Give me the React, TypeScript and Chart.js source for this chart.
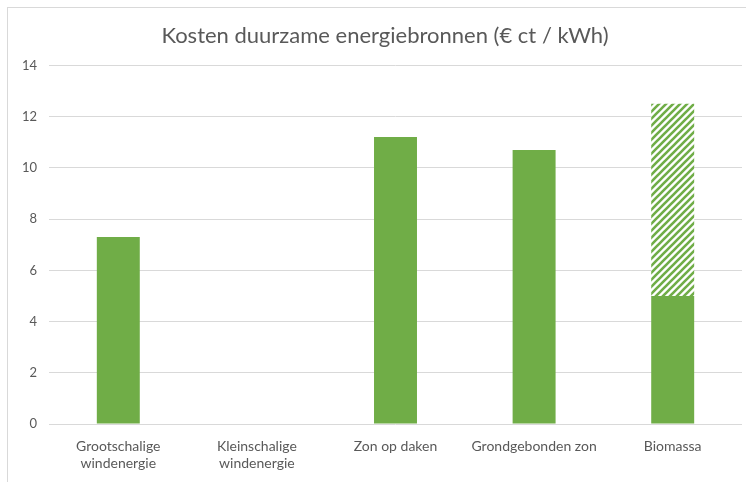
import React, { useEffect, useRef } from "react";
import { Chart, registerables } from "chart.js";

Chart.register(...registerables);

const categories: string[][] = [
  ["Grootschalige", "windenergie"],
  ["Kleinschalige", "windenergie"],
  ["Zon op daken"],
  ["Grondgebonden zon"],
  ["Biomassa"],
];
const solidValues = [7.3, 0, 11.2, 10.7, 5];
const hatchedValues = [0, 0, 0, 0, 7.5];
const yTicks = [0, 2, 4, 6, 8, 10, 12, 14];
const titleText = "Kosten duurzame energiebronnen (€ ct / kWh)";

const GREEN = "#70ad47";
const TEXT = "#595959";
const GRID = "#d9d9d9";
const FONT = "Lato, 'Open Sans', sans-serif";

function makeHatch(): CanvasPattern | string {
  const size = 7;
  const c = document.createElement("canvas");
  c.width = size;
  c.height = size;
  const ctx = c.getContext("2d");
  if (!ctx) return GREEN;
  ctx.fillStyle = "#ffffff";
  ctx.fillRect(0, 0, size, size);
  ctx.strokeStyle = GREEN;
  ctx.lineWidth = 2.6;
  ctx.beginPath();
  ctx.moveTo(-1, size + 1);
  ctx.lineTo(size + 1, -1);
  ctx.moveTo(-2, 2);
  ctx.lineTo(2, -2);
  ctx.moveTo(size - 2, size + 2);
  ctx.lineTo(size + 2, size - 2);
  ctx.stroke();
  const p = ctx.createPattern(c, "repeat");
  return p || GREEN;
}

export default function App() {
  const ref = useRef<HTMLCanvasElement | null>(null);

  useEffect(() => {
    if (!ref.current) return;
    const chart = new Chart(ref.current, {
      type: "bar",
      data: {
        labels: categories,
        datasets: [
          {
            label: "Kosten",
            data: solidValues,
            backgroundColor: GREEN,
            borderWidth: 0,
            barPercentage: 0.31,
            categoryPercentage: 1,
          },
          {
            label: "Bandbreedte",
            data: hatchedValues,
            backgroundColor: makeHatch() as any,
            borderWidth: 0,
            barPercentage: 0.31,
            categoryPercentage: 1,
          },
        ],
      },
      options: {
        animation: false,
        responsive: false,
        maintainAspectRatio: false,
        layout: { padding: { top: 1, right: 0, bottom: 0, left: 0 } },
        plugins: {
          legend: { display: false },
          tooltip: { enabled: false },
          title: {
            display: true,
            text: titleText,
            color: TEXT,
            font: { family: FONT, size: 22, weight: "normal" },
            padding: { top: 15, bottom: 16 },
          },
        },
        scales: {
          x: {
            stacked: true,
            grid: { display: false },
            border: { display: false },
            ticks: {
              color: TEXT,
              font: { family: FONT, size: 14 },
              padding: 6,
              maxRotation: 0,
              autoSkip: false,
            },
            afterFit: (s: any) => {
              s.height = 58;
            },
          },
          y: {
            stacked: true,
            min: 0,
            max: 14,
            afterBuildTicks: (s: any) => {
              s.ticks = yTicks.map((v) => ({ value: v }));
            },
            grid: { color: GRID, lineWidth: 1, drawTicks: false },
            border: { display: false },
            ticks: {
              color: TEXT,
              font: { family: FONT, size: 13 },
              padding: 12,
            },
            afterFit: (s: any) => {
              s.width = 42;
            },
          },
          yRight: {
            position: "right",
            display: true,
            grid: { display: false, drawTicks: false },
            border: { display: false },
            ticks: { display: false },
            afterFit: (s: any) => {
              s.width = 21;
            },
          },
        },
      },
    });
    return () => chart.destroy();
  }, []);

  return (
    <div
      style={{
        position: "fixed",
        left: 0,
        top: 0,
        width: 746,
        height: 482,
        overflow: "hidden",
        background: "#ffffff",
      }}
    >
      <div
        style={{
          position: "absolute",
          left: 7,
          top: 7,
          width: 780,
          height: 520,
          border: "1px solid #d9d9d9",
          boxSizing: "border-box",
        }}
      />
      <canvas
        ref={ref}
        width={756}
        height={475}
        style={{ position: "absolute", left: 7, top: 7, width: 756, height: 475 }}
      />
    </div>
  );
}
